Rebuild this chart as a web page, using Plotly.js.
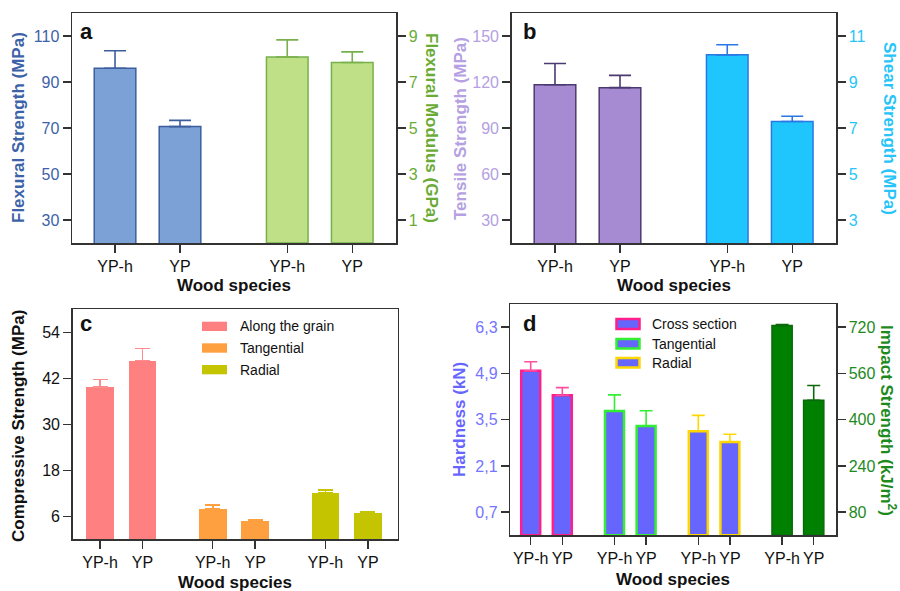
<!DOCTYPE html>
<html>
<head>
<meta charset="utf-8">
<script src="https://cdn.plot.ly/plotly-3.0.1.min.js"></script>
<style>html,body{margin:0;padding:0;background:#fff;}#chart{width:900px;height:591px;}</style>
</head>
<body>
<div id="chart"></div>
<script>
// ---------- DATA ----------
const species = ['YP-h', 'YP'];
// panel a
const flexStrength = [96.0, 70.6];
const flexStrengthErr = [7.6, 2.7];
const flexModulus = [8.09, 7.85];
const flexModulusErr = [0.74, 0.46];
// panel b
const tensileStrength = [118.2, 116.3];
const tensileStrengthErr = [13.9, 8.0];
const shearStrength = [10.18, 7.28];
const shearStrengthErr = [0.44, 0.23];
// panel c
const compAlong = [39.8, 46.6];
const compAlongErr = [1.9, 3.2];
const compTangential = [7.9, 4.7];
const compTangentialErr = [1.0, 0.5];
const compRadial = [12.0, 6.8];
const compRadialErr = [0.9, 0.35];
// panel d
const hardCross = [4.98, 4.24];
const hardCrossErr = [0.27, 0.23];
const hardTangential = [3.76, 3.31];
const hardTangentialErr = [0.49, 0.46];
const hardRadial = [3.15, 2.82];
const hardRadialErr = [0.48, 0.24];
const impactStrength = [726, 467];
const impactStrengthErr = [3, 51];

const ticksA_left = [30, 50, 70, 90, 110];
const ticksA_right = [1, 3, 5, 7, 9];
const ticksB_left = [30, 60, 90, 120, 150];
const ticksB_right = [3, 5, 7, 9, 11];
const ticksC = [6, 18, 30, 42, 54];
const ticksD_left = [0.7, 2.1, 3.5, 4.9, 6.3];
const ticksD_right = [80, 240, 400, 560, 720];

// ---------- LAYOUT HELPERS ----------
const W = 900, H = 591;
const px = x => x / W;
const py = y => 1 - y / H;
const GAP = 2.65;
const pos = g => species.map((s, i) => g * GAP + i);
const zeros = arr => arr.map(() => 0);
const FONT = 'Arial, "Liberation Sans", Helvetica, sans-serif';
const AX = '#333333';

function bar(g, y, err, fill, line, lw, errColor, errW, xa, ya, width) {
  return {
    type: 'bar', x: pos(g), y: y, xaxis: xa, yaxis: ya, width: width,
    marker: {color: fill, line: {color: line, width: lw}},
    error_y: {type: 'data', array: err, arrayminus: zeros(err), symmetric: false,
              color: errColor, thickness: 1.6, width: errW},
    showlegend: false, hoverinfo: 'skip'
  };
}

const data = [
  // a
  bar(0, flexStrength, flexStrengthErr, '#7ba1d6', '#3d5e9e', 1.5, '#3d5e9e', 11, 'x', 'y', 0.64),
  bar(1, flexModulus, flexModulusErr, '#bfe086', '#78b04c', 1.5, '#78b04c', 11, 'x', 'y2', 0.64),
  // b
  bar(0, tensileStrength, tensileStrengthErr, '#a68ad2', '#4b3a70', 1.5, '#4b3a70', 11, 'x2', 'y3', 0.64),
  bar(1, shearStrength, shearStrengthErr, '#1ec6fd', '#2b78e4', 1.5, '#2b78e4', 11, 'x2', 'y4', 0.64),
  // c
  bar(0, compAlong, compAlongErr, '#ff8080', '#ff8080', 0, '#ff8c8c', 7.5, 'x3', 'y5', 0.65),
  bar(1, compTangential, compTangentialErr, '#ffa040', '#ffa040', 0, '#ffa040', 7.5, 'x3', 'y5', 0.65),
  bar(2, compRadial, compRadialErr, '#c4c400', '#c4c400', 0, '#c4c400', 7.5, 'x3', 'y5', 0.65),
  // d
  bar(0, hardCross, hardCrossErr, '#6666ff', '#ff1f8c', 2.5, '#ff4fa0', 6.5, 'x4', 'y6', 0.6),
  bar(1, hardTangential, hardTangentialErr, '#6666ff', '#33ee33', 2.5, '#33ee33', 6.5, 'x4', 'y6', 0.6),
  bar(2, hardRadial, hardRadialErr, '#6666ff', '#ffd700', 2.5, '#ffd700', 6.5, 'x4', 'y6', 0.6),
  bar(3, impactStrength, impactStrengthErr, '#008000', '#0a6a0a', 1.5, '#0a6a0a', 6.5, 'x4', 'y7', 0.64)
];

function xAxis(domain, range, groups, anchor) {
  const vals = [], txt = [];
  for (let g = 0; g < groups; g++) { pos(g).forEach((v, i) => { vals.push(v); txt.push(species[i]); }); }
  return {domain: domain, range: range, anchor: anchor, tickmode: 'array', tickvals: vals, ticktext: txt,
    ticks: 'outside', ticklen: 8, tickwidth: 1.5, tickcolor: AX, showline: true, linecolor: AX, linewidth: 1.5,
    mirror: true, showgrid: false, zeroline: false, fixedrange: true,
    tickfont: {family: FONT, size: 16, color: '#111'}};
}
function yAxis(domain, range, ticks, color, extra) {
  return Object.assign({domain: domain, range: range, tickmode: 'array', tickvals: ticks,
    ticks: 'outside', ticklen: 8, tickwidth: 1.5, tickcolor: AX, showline: true, linecolor: AX, linewidth: 1.5,
    showgrid: false, zeroline: false, fixedrange: true,
    tickfont: {family: FONT, size: 16, color: color}}, extra || {});
}

const yTop = [py(243), py(13)];
const yBot_c = [py(539.3), py(309.3)];
const yBot_d = [py(535.3), py(304)];

function ann(x, y, text, color, size, angle, bold) {
  return {xref: 'paper', yref: 'paper', x: px(x), y: py(y), text: bold === false ? text : '<b>' + text + '</b>',
    showarrow: false, xanchor: 'center', yanchor: 'middle', textangle: angle || 0,
    font: {family: FONT, size: size, color: color}};
}
function legText(x, y, text) {
  return {xref: 'paper', yref: 'paper', x: px(x), y: py(y), text: text, showarrow: false,
    xanchor: 'left', yanchor: 'middle', font: {family: FONT, size: 14, color: '#111'}};
}
function patch(x0, y0, x1, y1, fill, line, lw) {
  return {type: 'rect', xref: 'paper', yref: 'paper', x0: px(x0), x1: px(x1), y0: py(y1), y1: py(y0),
    fillcolor: fill, line: {color: line, width: lw}};
}

const layout = {
  width: W, height: H, margin: {l: 0, r: 0, t: 0, b: 0},
  paper_bgcolor: '#fff', plot_bgcolor: '#fff', showlegend: false, separators: ',.',
  bargap: 0,
  xaxis: xAxis([px(72), px(396)], [-0.662, 4.323], 2, 'y'),
  yaxis: yAxis(yTop, [20, 120], ticksA_left, '#3d62a8', {anchor: 'x'}),
  yaxis2: yAxis(yTop, [0, 10], ticksA_right, '#6aab35', {anchor: 'x', overlaying: 'y', side: 'right'}),
  xaxis2: xAxis([px(511.7), px(836)], [-0.666, 4.323], 2, 'y3'),
  yaxis3: yAxis(yTop, [15, 165], ticksB_left, '#b4a0e2', {anchor: 'x2'}),
  yaxis4: yAxis(yTop, [2, 12], ticksB_right, '#26c4f8', {anchor: 'x2', overlaying: 'y3', side: 'right'}),
  xaxis3: xAxis([px(72.7), px(397.7)], [-0.642, 7.0], 3, 'y5'),
  yaxis5: yAxis(yBot_c, [0, 60], ticksC, '#111', {anchor: 'x3', mirror: true}),
  xaxis4: xAxis([px(510.3), px(836)], [-0.645, 9.655], 4, 'y6'),
  yaxis6: yAxis(yBot_d, [0, 7], ticksD_left, '#7474ff', {anchor: 'x4'}),
  yaxis7: yAxis(yBot_d, [0, 800], ticksD_right, '#1e8a1e', {anchor: 'x4', overlaying: 'y6', side: 'right'}),
  annotations: [
    // panel letters
    ann(86, 31, 'a', '#111', 22), ann(529, 32, 'b', '#111', 22),
    ann(86, 323, 'c', '#111', 22), ann(529, 323, 'd', '#111', 22),
    // x titles
    ann(234, 285, 'Wood species', '#111', 17), ann(674, 285, 'Wood species', '#111', 17),
    ann(235, 582, 'Wood species', '#111', 17), ann(673, 579, 'Wood species', '#111', 17),
    // y titles
    ann(18, 128, 'Flexural Strength (MPa)', '#3d62a8', 17, -90),
    ann(432, 128, 'Flexural Modulus (GPa)', '#6aab35', 17, 90),
    ann(460, 128, 'Tensile Strength (MPa)', '#b4a0e2', 17, -90),
    ann(890, 128, 'Shear Strength (MPa)', '#26c4f8', 17, 90),
    ann(18, 426, 'Compressive Strength (MPa)', '#111', 17, -90),
    ann(459, 420, 'Hardness (kN)', '#6666ff', 17, -90),
    ann(888, 420, 'Impact Strength (kJ/m<sup>2</sup>)', '#1e8a1e', 17, 90),
    // legends
    legText(238, 326.3, 'Along the grain'), legText(238, 348, 'Tangential'), legText(238, 369.7, 'Radial'),
    legText(650, 323.8, 'Cross section'), legText(650, 343.7, 'Tangential'), legText(650, 362.8, 'Radial')
  ],
  shapes: [
    patch(202, 321.7, 227, 331, '#ff8080', '#ff8080', 0),
    patch(202, 343.3, 227, 352.7, '#ffa040', '#ffa040', 0),
    patch(202, 365, 227, 374.3, '#c4c400', '#c4c400', 0),
    patch(616.5, 319, 639.5, 329, '#6666ff', '#ff1f8c', 2.5),
    patch(616.5, 339, 639.5, 348.5, '#6666ff', '#33ee33', 2.5),
    patch(616.5, 358, 639.5, 367.5, '#6666ff', '#ffd700', 2.5)
  ]
};

Plotly.newPlot('chart', data, layout, {staticPlot: true, displayModeBar: false});
</script>
</body>
</html>
